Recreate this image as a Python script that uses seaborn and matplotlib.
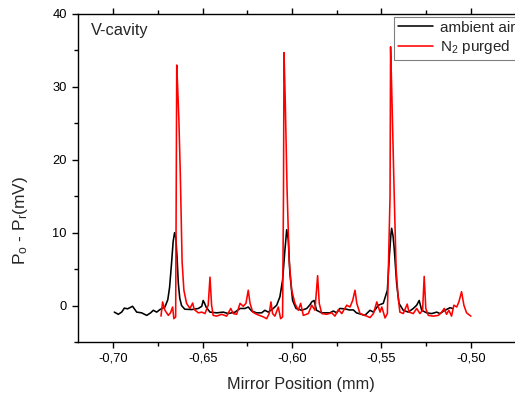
import matplotlib
matplotlib.use("Agg")
import matplotlib.pyplot as plt
import matplotlib.ticker as mticker
from matplotlib.lines import Line2D
import seaborn as sns
import pandas as pd

# ---- data (mirror position in mm, signal in mV) ----
air_x = [-0.6994, -0.6972, -0.6953, -0.6938, -0.6920, -0.6892, -0.6869, -0.6841, -0.6813, -0.6791,
         -0.6776, -0.6757, -0.6739, -0.6711, -0.6695, -0.6685, -0.6675, -0.6665, -0.6657, -0.6650,
         -0.6643, -0.6636, -0.6628, -0.6618, -0.6600, -0.6561, -0.6524, -0.6505, -0.6497, -0.6489,
         -0.6481, -0.6459, -0.6422, -0.6385, -0.6357, -0.6319, -0.6291, -0.6263, -0.6245, -0.6226,
         -0.6198, -0.6170, -0.6152, -0.6133, -0.6105, -0.6086, -0.6068, -0.6053, -0.6040, -0.6030,
         -0.6021, -0.6012, -0.5997, -0.5978, -0.5946, -0.5918, -0.5900, -0.5890, -0.5877, -0.5863,
         -0.5834, -0.5788, -0.5769, -0.5750, -0.5733, -0.5705, -0.5680, -0.5657, -0.5640, -0.5593,
         -0.5564, -0.5545, -0.5517, -0.5490, -0.5467, -0.5456, -0.5447, -0.5443, -0.5435, -0.5428,
         -0.5415, -0.5402, -0.5378, -0.5350, -0.5322, -0.5303, -0.5289, -0.5275, -0.5247, -0.5219,
         -0.5191, -0.5173, -0.5145, -0.5117, -0.5102]
air_y = [-0.9, -1.2, -0.9, -0.35, -0.45, -0.1, -0.9, -1.0, -1.35, -1.0,
         -0.65, -0.9, -0.55, -0.2, 0.8, 2.5, 5.5, 8.8, 10.0, 9.3,
         6.5, 3.0, 1.0, 0.0, -0.5, -0.55, -0.4, -0.1, 0.7, 0.3,
         -0.2, -0.9, -1.0, -0.9, -1.1, -0.9, -0.4, -0.4, -0.2, -0.75,
         -1.0, -1.0, -0.65, -0.9, -0.4, 0.05, 1.2, 3.5, 7.6, 10.4,
         9.0, 4.4, 0.7, -0.4, -0.65, -0.4, 0.1, 0.5, 0.7, -0.65,
         -1.0, -1.0, -0.75, -1.0, -0.4, -0.45, -0.6, -0.6, -1.0, -1.35,
         -0.65, -0.9, 0.05, 0.3, 2.1, 6.7, 9.8, 10.6, 9.5, 7.6,
         3.0, 0.3, -0.65, -0.9, -0.4, 0.05, 0.7, -0.65, -1.0, -1.1,
         -0.9, -1.1, -0.65, -0.3, -0.4]

n2_x = [-0.6733, -0.6724, -0.6711, -0.6692, -0.6680, -0.6668, -0.6661, -0.6651, -0.6648, -0.6645,
        -0.6640, -0.6633, -0.6625, -0.6615, -0.6605, -0.6590, -0.6571, -0.6556, -0.6547, -0.6524,
        -0.6505, -0.6487, -0.6469, -0.6459, -0.6450, -0.6441, -0.6422, -0.6394, -0.6366, -0.6343,
        -0.6329, -0.6310, -0.6291, -0.6273, -0.6258, -0.6245, -0.6235, -0.6220, -0.6198, -0.6161,
        -0.6142, -0.6128, -0.6118, -0.6109, -0.6096, -0.6077, -0.6064, -0.6053, -0.6048, -0.6045,
        -0.6038, -0.6028, -0.6016, -0.6002, -0.5984, -0.5965, -0.5952, -0.5937, -0.5909, -0.5890,
        -0.5872, -0.5857, -0.5848, -0.5834, -0.5806, -0.5778, -0.5760, -0.5741, -0.5722, -0.5694,
        -0.5676, -0.5661, -0.5648, -0.5638, -0.5620, -0.5582, -0.5564, -0.5545, -0.5526, -0.5508,
        -0.5498, -0.5480, -0.5467, -0.5452, -0.5449, -0.5443, -0.5428, -0.5418, -0.5408, -0.5397,
        -0.5378, -0.5356, -0.5346, -0.5322, -0.5303, -0.5285, -0.5270, -0.5261, -0.5252, -0.5238,
        -0.5210, -0.5182, -0.5163, -0.5149, -0.5136, -0.5123, -0.5108, -0.5095, -0.5079, -0.5067,
        -0.5052, -0.5039, -0.5024, -0.5000]
n2_y = [-1.45, 0.5, -0.65, -1.35, -1.0, -0.2, -1.8, -1.55, 15.0, 33.0,
        30.0, 25.5, 18.0, 6.0, 2.1, 0.3, -0.4, 0.35, -0.55, -1.0,
        -0.9, -1.1, 0.05, 3.9, 0.05, -1.35, -1.45, -1.2, -1.45, -0.4,
        -1.1, -1.2, 0.3, -0.1, 0.3, 2.1, 0.3, -0.9, -1.2, -1.55,
        -1.8, -1.1, 0.5, -1.1, -1.45, -0.2, -1.8, -1.55, 15.0, 34.7,
        28.0, 16.0, 6.0, 2.1, 0.3, -0.65, 0.3, -1.35, -1.1, 0.05,
        -0.65, 4.1, 0.3, -1.1, -1.2, -1.0, -1.45, -0.55, -1.1, 0.05,
        -0.2, 0.7, 2.1, 0.3, -1.1, -1.45, -1.65, -1.1, 0.5, -0.9,
        -0.2, -1.7, -1.1, 15.0, 35.5, 30.0, 14.5, 5.0, 1.5, -0.9,
        -1.1, 0.2, -0.9, -1.1, -0.4, -1.1, -0.65, 4.0, -0.4, -1.35,
        -1.45, -1.35, -0.9, -0.4, -1.2, -0.65, -1.45, 0.05, -0.2, 0.5,
        1.9, 0.05, -1.0, -1.45]

series_names = ["ambient air", "N$_2$ purged"]
series_colors = ["#000000", "#ff0000"]
x_ticks = [-0.70, -0.65, -0.60, -0.55, -0.50]
y_ticks = [0, 10, 20, 30, 40]

df = pd.concat([
    pd.DataFrame({"x": air_x, "y": air_y, "s": series_names[0]}),
    pd.DataFrame({"x": n2_x, "y": n2_y, "s": series_names[1]}),
], ignore_index=True)

sns.set_style("white")
plt.rcParams["font.family"] = ["Liberation Sans", "DejaVu Sans"]
plt.rcParams["mathtext.fontset"] = "custom"
plt.rcParams["mathtext.rm"] = "Liberation Sans"
plt.rcParams["mathtext.it"] = "Liberation Sans"

W, H = 515, 397
fig = plt.figure(figsize=(W / 100, H / 100), dpi=100)
ax_left, ax_right, ax_top, ax_bot = 77.5, 524.5, 14, 342
ax = fig.add_axes([ax_left / W, 1 - ax_bot / H, (ax_right - ax_left) / W, (ax_bot - ax_top) / H])

sns.lineplot(data=df, x="x", y="y", hue="s", palette=dict(zip(series_names, series_colors)),
             estimator=None, sort=False, linewidth=1.15, ax=ax, legend=False)

ax.set_xlim(-0.72, -0.47)
ax.set_ylim(-5, 40)
ax.set_xticks(x_ticks)
ax.set_yticks(y_ticks)
ax.xaxis.set_minor_locator(mticker.MultipleLocator(0.025))
ax.yaxis.set_minor_locator(mticker.MultipleLocator(5))
ax.xaxis.set_major_formatter(mticker.FuncFormatter(lambda v, p: f"{v:.2f}".replace(".", ",")))
ax.yaxis.set_major_formatter(mticker.FuncFormatter(lambda v, p: f"{v:.0f}"))
ax.tick_params(which="both", direction="out", top=True, right=False, left=True, bottom=True,
               labelsize=9.3, colors="black", width=1.0)
ax.tick_params(which="major", length=4.6, pad=3)
ax.tick_params(which="minor", length=2.9)
for sp in ax.spines.values():
    sp.set_color("black")
    sp.set_linewidth(1.0)

ax.set_xlabel("")
ax.set_ylabel("")
fig.text(301 / W, 1 - 384 / H, "Mirror Position (mm)", fontsize=11.7, ha="center", va="center")
fig.text(21 / W, 1 - 220 / H, "P$_o$ - P$_r$(mV)", fontsize=12.5, ha="center", va="center",
         rotation=90)
fig.text(91 / W, 1 - 30 / H, "V-cavity", fontsize=11.8, va="center", ha="left")

handles = [Line2D([], [], color=c, lw=1.15) for c in series_colors]
leg = fig.legend(handles, series_names, loc="upper left", bbox_to_anchor=(394 / W, 1 - 17 / H),
                 fontsize=11, frameon=True, fancybox=False, framealpha=1, edgecolor="#808080",
                 handlelength=2.3, handletextpad=0.45, borderpad=0.25, labelspacing=0.2,
                 borderaxespad=0)
leg.get_frame().set_linewidth(0.8)

fig.savefig("out.png", dpi=100)
